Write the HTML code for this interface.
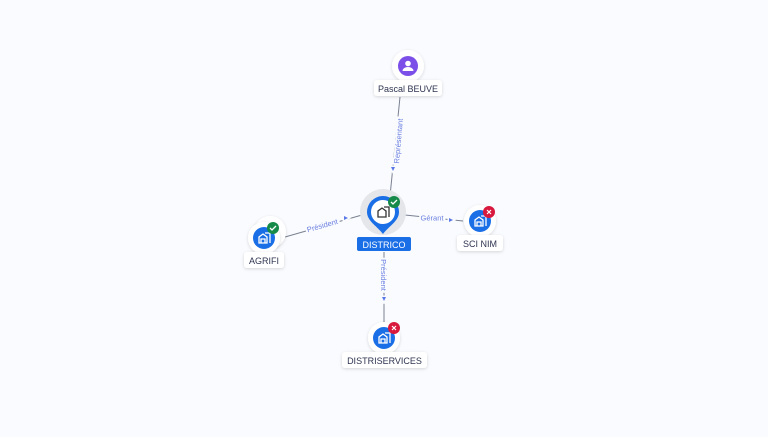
<!DOCTYPE html>
<html><head><meta charset="utf-8"><style>
body{margin:0;width:768px;height:432px;background:#f9fbfe;overflow:hidden;font-family:"Liberation Sans",sans-serif}
</style></head><body>
<svg width="768" height="432" viewBox="0 0 768 432" xmlns="http://www.w3.org/2000/svg" font-family="Liberation Sans, sans-serif">
<defs>
<filter id="sh" x="-50%" y="-50%" width="200%" height="200%"><feDropShadow dx="0" dy="1" stdDeviation="1.5" flood-color="#000" flood-opacity="0.15"/></filter>
<g id="bld"><path d="M-5 5 V-1 L-1 -4 L3 -1 V5 Z M-3 5 V1 H1 V5" fill="none" stroke="#fff" stroke-width="1.3"/><path d="M1 -5 H6 V5" fill="none" stroke="#fff" stroke-width="1.3"/></g>
</defs>
<g stroke="#7a8091" stroke-width="1" fill="none">
<line x1="400" y1="97" x2="390" y2="196"/>
<line x1="405" y1="215" x2="463" y2="221"/>
<line x1="285" y1="237" x2="362" y2="215"/>
<line x1="384" y1="252" x2="384" y2="322"/>
</g>
<g fill="#5b78e8" font-size="7.5" stroke="#f9fbfe" stroke-width="4" paint-order="stroke">
<text transform="translate(398,141) rotate(-85)" text-anchor="middle" dy="3" fill="#6b7fe0">Représentant</text>
<text x="432" y="220.5" text-anchor="middle" fill="#6b7fe0">Gérant</text>
<text transform="translate(323,228) rotate(-16)" text-anchor="middle" fill="#6b7fe0">Président</text>
<text transform="translate(384,275) rotate(90)" text-anchor="middle" dy="3" fill="#6b7fe0">Président</text>
</g>
<g fill="#5b78e8" stroke="#f9fbfe" stroke-width="3" paint-order="stroke">
<path d="M391 167 l4 0 l-2 4z"/>
<path d="M449 218 l4 2 l-4 2z"/>
<path d="M344 216 l4 2 l-4 2z"/>
<path d="M382 297 l4 0 l-2 4z"/>
</g>
<!-- Pascal -->
<circle cx="408" cy="66" r="16" fill="#fff" filter="url(#sh)"/>
<circle cx="408" cy="66" r="10" fill="#7b4fe8"/>
<circle cx="408" cy="63.5" r="2.8" fill="#fff"/><path d="M402.5 71 a5.5 4 0 0 1 11 0z" fill="#fff"/>
<rect x="374" y="80" width="68" height="16" rx="3" fill="#fff" filter="url(#sh)"/>
<text x="408" y="92" text-anchor="middle" font-size="9" fill="#2e3450">Pascal BEUVE</text>
<!-- Districo -->
<circle cx="383" cy="212" r="23" fill="#e4e6ea"/>
<path d="M367 212 a16 16 0 1 1 32 0 c0 9 -10 14 -16 22 c-6 -8 -16 -13 -16 -22z" fill="#1a6ee6"/>
<circle cx="383" cy="212" r="12" fill="#fff"/>
<g transform="translate(383,212)"><path d="M-5 5 V-1 L-1 -4 L3 -1 V5 Z" fill="none" stroke="#333" stroke-width="1.3"/><path d="M1 -5 H6 V5" fill="none" stroke="#333" stroke-width="1.3"/></g>
<circle cx="394" cy="202" r="6" fill="#168a48"/><path d="M391 202 l2 2 l4 -4" stroke="#fff" stroke-width="1.3" fill="none"/>
<rect x="357" y="237" width="54" height="14" rx="2" fill="#1a6ee6"/>
<text x="384" y="248" text-anchor="middle" font-size="9" fill="#fff">DISTRICO</text>
<!-- SCI NIM -->
<circle cx="480" cy="221" r="16" fill="#fff" filter="url(#sh)"/>
<circle cx="480" cy="221" r="11" fill="#1a6ee6"/>
<use href="#bld" x="480" y="221"/>
<circle cx="489" cy="212" r="6" fill="#d8183c"/><path d="M487 210 l4 4 M491 210 l-4 4" stroke="#fff" stroke-width="1.2"/>
<rect x="457" y="235" width="46" height="16" rx="3" fill="#fff" filter="url(#sh)"/>
<text x="480" y="247" text-anchor="middle" font-size="9" fill="#2e3450">SCI NIM</text>
<!-- AGRIFI -->
<circle cx="270" cy="232" r="16" fill="#fff" filter="url(#sh)"/>
<circle cx="264" cy="238" r="16" fill="#fff" filter="url(#sh)"/>
<circle cx="264" cy="238" r="11" fill="#1a6ee6"/>
<use href="#bld" x="264" y="238"/>
<circle cx="273" cy="228" r="6" fill="#168a48"/><path d="M270 228 l2 2 l4 -4" stroke="#fff" stroke-width="1.3" fill="none"/>
<rect x="244" y="252" width="40" height="16" rx="3" fill="#fff" filter="url(#sh)"/>
<text x="264" y="264" text-anchor="middle" font-size="9" fill="#2e3450">AGRIFI</text>
<!-- DISTRISERVICES -->
<circle cx="384" cy="338" r="16" fill="#fff" filter="url(#sh)"/>
<circle cx="384" cy="338" r="11" fill="#1a6ee6"/>
<use href="#bld" x="384" y="338"/>
<circle cx="394" cy="328" r="6" fill="#d8183c"/><path d="M392 326 l4 4 M396 326 l-4 4" stroke="#fff" stroke-width="1.2"/>
<rect x="342" y="352" width="85" height="16" rx="3" fill="#fff" filter="url(#sh)"/>
<text x="384.5" y="364" text-anchor="middle" font-size="9" fill="#2e3450">DISTRISERVICES</text>
</svg>
</body></html>
